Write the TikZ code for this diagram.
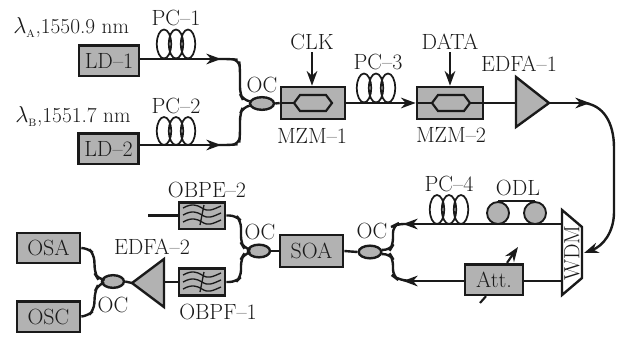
\documentclass[tikz,border=0pt]{standalone}
\usetikzlibrary{arrows.meta,shapes.geometric,calc}
\definecolor{boxgray}{HTML}{B2B2B2}
\definecolor{ink}{HTML}{1A1A1A}
\tikzset{
  x=0.75pt,y=-0.75pt,
  lab/.style={inner sep=0pt,text=ink,font=\fontsize{16.5}{18}\selectfont},
  devbox/.style={draw=ink,line width=2pt,fill=boxgray,minimum width=#1*0.75pt,inner sep=0pt,text=ink,font=\fontsize{16.5}{18}\selectfont},
  devbox/.default=62,
  coupler/.style={ellipse,draw=ink,line width=1.8pt,fill=boxgray,minimum width=18pt,minimum height=9.5pt,inner sep=0pt},
  fibre/.style={draw=ink,line width=1.8pt,rounded corners=5pt},
  fibrea/.style={fibre,-{Stealth[length=11pt,width=8pt,inset=3.5pt]}},
  thin fibre/.style={draw=ink,line width=1.3pt},
  amp/.style={draw=ink,line width=1.8pt,fill=boxgray,line join=miter},
}
\newcommand{\coil}[3]{\draw[thin fibre] (#1,#2) ellipse [x radius=7.2,y radius=#3];}
\newcommand{\pcoil}[3]{\coil{#1}{#2}{#3}\coil{#1+12}{#2}{#3}\coil{#1+24}{#2}{#3}}
\newcommand{\hexmod}[2]{\draw[draw=ink,line width=1.6pt] (#1-19,#2) -- (#1-13,#2-8) -- (#1+13,#2-8) -- (#1+19,#2) -- (#1+13,#2+8) -- (#1-13,#2+8) -- cycle;}
\newcommand{\filt}[2]{%
  \foreach \d in {-7,0,7}{\draw[ink,line width=1pt] (#1-19,#2+\d) .. controls (#1-10,#2+\d-5) and (#1-5,#2+\d-3) .. (#1,#2+\d) .. controls (#1+6,#2+\d+4) and (#1+10,#2+\d+2) .. (#1+19,#2+\d-2);}
  \draw[ink,line width=1pt] (#1+2,#2-10) -- (#1-2,#2+10);}
\begin{document}
\begin{tikzpicture}
\useasboundingbox (0,0) rectangle (624,336);
% sources
\node[devbox=60,minimum height=23pt] (ld1) at (109,60.5) {LD--1};
\node[devbox=60,minimum height=23pt] (ld2) at (108.5,148.5) {LD--2};
\node[lab,anchor=west,font=\fontsize{16}{18}\selectfont] (la) at (13,28) {$\lambda_{\scriptscriptstyle\rm A}$,1550.9 nm};
\node[lab,anchor=west,font=\fontsize{16}{18}\selectfont] (lb) at (15,117) {$\lambda_{\scriptscriptstyle\rm B}$,1551.7 nm};
\node[lab] (pc1) at (176,18) {PC--1};
\node[lab] (pc2) at (176,106) {PC--2};
\pcoil{164}{44}{14.5}
\pcoil{164}{131}{14}
% coupler 1
\node[coupler] (oc1) at (262,103.5) {};
\node[lab] (oc1l) at (262,85) {OC};
\coordinate (a1) at (221,59);
\coordinate (a2) at (221,145);
\draw[fibre] (a1) ++(-6,0) -- (231,59) -- (239,60) -- (240,68) -- (240,94) -- (243,100) -- (oc1.170);
\draw[fibre] (a2) ++(-6,0) -- (231,145) -- (239,144) -- (240,136) -- (240,114) -- (243,107) -- (oc1.190);
\draw[fibrea] (ld1.east |- a1) -- (a1);
\draw[fibrea] (ld2.east |- a2) -- (a2);
% modulators
\node[devbox=64,minimum height=24pt] (mzm1) at (313,103) {};
\node[devbox=66,minimum height=24pt] (mzm2) at (450,103) {};
\hexmod{313}{103}
\hexmod{451}{103}
\draw[thin fibre,line width=1.6pt] (mzm1.west) -- (294,103);
\draw[thin fibre,line width=1.6pt] (mzm2.west) -- (432,103);
\draw[thin fibre,line width=1.6pt] (470,103) -- (mzm2.east);
\draw[fibre] (oc1.east) -- (mzm1.west);
\node[lab] (clk) at (312,42) {CLK};
\node[lab] (data) at (450,42) {DATA};
\node[lab] (m1l) at (312,136) {MZM--1};
\node[lab] (m2l) at (451,135) {MZM--2};
\draw[fibrea,line width=1.4pt] (clk.south) ++(0,2) -- (mzm1.north -| clk);
\draw[fibrea,line width=1.4pt] (data.south) ++(0,2) -- (mzm2.north);
\node[lab] (pc3) at (378,62) {PC--3};
\pcoil{364}{88}{14.5}
\draw[fibrea] (mzm1.east) -- (mzm2.west);
% EDFA-1
\node[lab] (e1l) at (519,64) {EDFA--1};
\draw[fibre] (mzm2.east) -- (516,103);
\draw[amp] (516,77) -- (549,103) -- (516,127) -- cycle;
\coordinate (e1o) at (549,103);
\coordinate (e1a) at (590,103);
% WDM
\draw[amp,fill=white] (562,210) -- (582,227) -- (582,278) -- (562,295) -- cycle;
\coordinate (wdm) at (584,253);
\node[lab,rotate=90] (wdml) at (572,253) {WDM};
\draw[draw=ink,line width=1.8pt,-{Stealth[length=11pt,width=8pt,inset=3.5pt]}] (584,103) .. controls (603,105) and (614,122) .. (614,148) -- (614,212) .. controls (614,232) and (603,246) .. (wdm);
\draw[fibrea] (e1o) -- (e1a);
% upper return arm
\node[lab] (pc4) at (449,184) {PC--4};
\node[lab] (odl) at (518,188) {ODL};
\pcoil{437}{209.5}{14.5}
\node[circle,draw=ink,line width=1.4pt,fill=boxgray,minimum size=16.5pt,inner sep=0pt] (r1) at (498,213) {};
\node[circle,draw=ink,line width=1.4pt,fill=boxgray,minimum size=16.5pt,inner sep=0pt] (r2) at (535,213) {};
\draw[thin fibre,line width=1.6pt] (r1.north) -- (r2.north);
\coordinate (wu) at (562,224);
\coordinate (wl) at (562,281);
\coordinate (au) at (403,224);
\coordinate (al) at (403,281);
\node[coupler,minimum width=17pt] (oc3) at (370,252) {};
\node[lab] (oc3l) at (372,231) {OC};
\draw[fibre] (409,224) -- (397,224) -- (393,226) -- (393,245) -- (390,250) -- (oc3.10);
\draw[fibre] (409,281) -- (397,279) -- (393,276) -- (393,259) -- (390,254) -- (oc3.-10);
\draw[fibrea] (wu) -- (au);
\node[devbox=58,minimum height=23pt] (att) at (494,279.5) {Att.};
\draw[fibre] (wl) -- (att.east |- wl);
\draw[fibrea] (att.west |- wl) -- (al);
\draw[draw=ink,line width=1.6pt] (480,303) -- (att.south -| 486,0);
\draw[draw=ink,line width=1.6pt,-{Stealth[length=11pt,width=8pt,inset=3.5pt]}] (att.north -| 507,0) -- (518,247);
% SOA
\node[devbox=63,minimum height=24pt] (soa) at (311.5,251) {SOA};
\draw[fibre] (soa.east) -- (oc3.west);
% middle coupler
\node[coupler,minimum width=16.5pt] (oc2) at (259,251) {};
\node[lab] (oc2l) at (260,232) {OC};
\draw[fibre] (oc2.east) -- (soa.west);
% filters
\node[devbox=46,minimum height=20pt] (f2) at (202,215.5) {};
\node[devbox=46,minimum height=20pt] (f1) at (202,282) {};
\filt{202}{215}
\filt{202}{282}
\node[lab] (f2l) at (207,190) {OBPE--2};
\node[lab] (f1l) at (218,312) {OBPF--1};
\coordinate (fin) at (148,215.5);
\draw[fibre] (fin) -- (f2.west);
\draw[fibre] (f2.east) -- (236,215.5) -- (241,221) -- (241,243) -- (244,248) -- (oc2.170);
\draw[fibre] (f1.east) -- (236,282) -- (241,277) -- (241,259) -- (244,254) -- (oc2.190);
% EDFA-2
\node[lab] (e2l) at (152,247) {EDFA--2};
\draw[fibre] (f1.west) -- (164,282);
\draw[amp] (164,259) -- (132,283) -- (164,307) -- cycle;
\coordinate (e2o) at (132,283);
% left coupler
\node[coupler,minimum width=16.5pt] (oc4) at (113,281.5) {};
\node[lab] (oc4l) at (113,305) {OC};
\draw[fibre] (e2o) -- (oc4.east);
% instruments
\node[devbox=63,minimum height=22.5pt] (osa) at (48.5,248) {OSA};
\node[devbox=63,minimum height=23pt] (osc) at (48.5,316.5) {OSC};
\draw[fibre] (osa.east) -- (88,248) -- (94,254) -- (95,274) -- (98,279) -- (oc4.170);
\draw[fibre] (osc.east) -- (88,316) -- (94,310) -- (95,291) -- (98,285) -- (oc4.190);
\end{tikzpicture}
\end{document}
